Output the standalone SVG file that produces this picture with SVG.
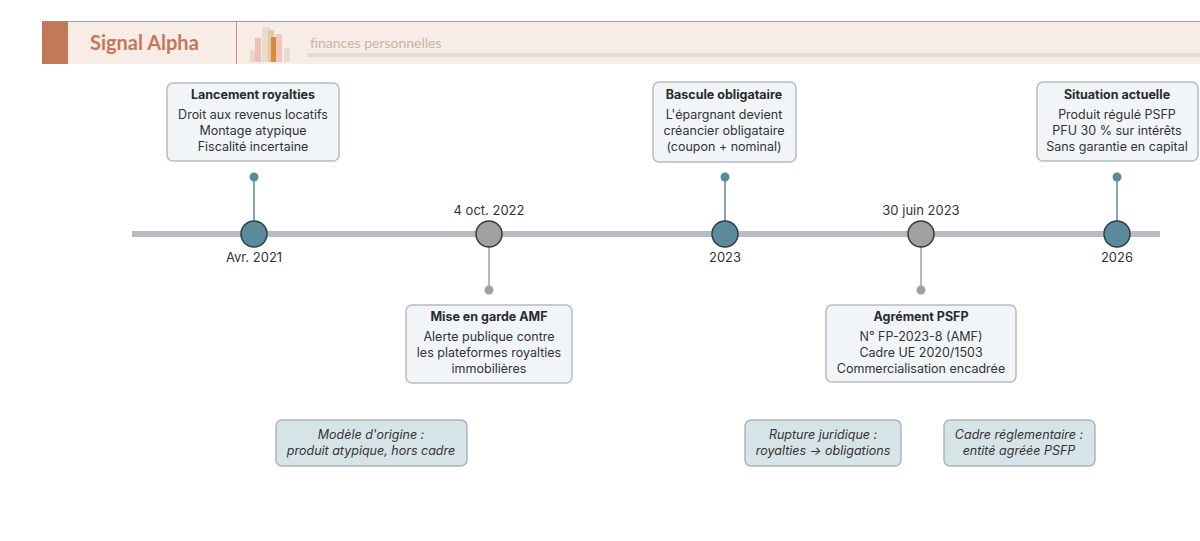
<svg xmlns="http://www.w3.org/2000/svg" width="1200" height="541" viewBox="0 0 1200 541">
<style>
text{font-family:Inter,"Noto Sans",sans-serif;fill:#2b2b2b}
.box{fill:#f1f5f8;stroke:#b4bcc2;stroke-width:1.5}
.note{fill:#d6e4e8;stroke:#a9b7bd;stroke-width:1.5}
.t{font-size:12.5px;font-weight:700;text-anchor:middle}
.b{font-size:12.5px;text-anchor:middle;fill:#333}
.n{font-size:12.5px;font-style:italic;text-anchor:middle;fill:#333}
.d{font-size:13px;text-anchor:middle;fill:#333}
.teal{fill:#5b8a9c;stroke:#2f3f46;stroke-width:1.5}
.gray{fill:#a0a0a0;stroke:#3a3a3a;stroke-width:1.5}
</style>
<rect width="1200" height="541" fill="#fff"/>
<g id="header">
<rect x="42" y="21" width="1158" height="43" fill="#f7ece6"/>
<line x1="42" y1="21.5" x2="1200" y2="21.5" stroke="#cf8f78" stroke-width="1"/>
<rect x="42" y="21" width="26" height="43" fill="#c4785a"/>
<line x1="236.5" y1="21" x2="236.5" y2="64" stroke="#cf8f78"/>
<text x="90" y="50" style="font-size:20px;font-weight:700;fill:#c4785a;font-family:Lato,Inter,sans-serif">Signal Alpha</text>
<rect x="250" y="50" width="8" height="12" fill="#e9d8c8"/>
<rect x="255" y="38" width="6" height="24" fill="#ecc0b8"/>
<rect x="262" y="27" width="8" height="35" fill="#e8dccb"/>
<rect x="268" y="30" width="6" height="32" fill="#e0c8a8"/>
<rect x="271" y="37" width="5" height="25" fill="#d68a3c"/>
<rect x="276" y="34" width="6" height="28" fill="#efc8c0"/>
<rect x="284" y="48" width="6" height="14" fill="#eadccd"/>
<rect x="307" y="53" width="893" height="4" fill="#e8dbd1"/>
<text x="310" y="48" style="font-size:14px;fill:#c9b5a4;font-family:Lato,Inter,sans-serif">finances personnelles</text>
</g>
<g id="connectors">
<line x1="132" y1="234" x2="1160" y2="234" stroke="#b8bcc2" stroke-width="6"/>
<g stroke="#5b8a9c" stroke-width="1.5"><line x1="254" y1="177" x2="254" y2="221"/><line x1="725" y1="177" x2="725" y2="221"/><line x1="1117" y1="177" x2="1117" y2="221"/></g>
<g stroke="#a0a0a0" stroke-width="1.5"><line x1="489" y1="247" x2="489" y2="290"/><line x1="921" y1="247" x2="921" y2="290"/></g>
<g fill="#5b8a9c"><circle cx="254" cy="177" r="4.5"/><circle cx="725" cy="177" r="4.5"/><circle cx="1117" cy="177" r="4.5"/></g>
<g fill="#a0a0a0"><circle cx="489" cy="290" r="4.5"/><circle cx="921" cy="290" r="4.5"/></g>
</g>
<g id="m2021"><circle class="teal" cx="254" cy="234" r="13"/><text class="d" x="254" y="262">Avr. 2021</text></g>
<g id="m2022"><circle class="gray" cx="489" cy="234" r="13"/><text class="d" x="489" y="215">4 oct. 2022</text></g>
<g id="m2023"><circle class="teal" cx="725" cy="234" r="13"/><text class="d" x="725" y="262">2023</text></g>
<g id="m2023b"><circle class="gray" cx="921" cy="234" r="13"/><text class="d" x="921" y="215">30 juin 2023</text></g>
<g id="m2026"><circle class="teal" cx="1117" cy="234" r="13"/><text class="d" x="1117" y="262">2026</text></g>
<g id="lancement"><rect class="box" x="167" y="83" width="172" height="78" rx="6"/>
<text class="t" x="253" y="99">Lancement royalties</text><text class="b" x="253" y="119">Droit aux revenus locatifs</text><text class="b" x="253" y="135">Montage atypique</text><text class="b" x="253" y="151">Fiscalité incertaine</text></g>
<g id="bascule"><rect class="box" x="653" y="82" width="143" height="80" rx="6"/>
<text class="t" x="724" y="99">Bascule obligataire</text><text class="b" x="724" y="119">L'épargnant devient</text><text class="b" x="724" y="135">créancier obligataire</text><text class="b" x="724" y="151">(coupon + nominal)</text></g>
<g id="situation"><rect class="box" x="1037" y="82" width="161" height="79" rx="6"/>
<text class="t" x="1117" y="99">Situation actuelle</text><text class="b" x="1117" y="119">Produit régulé PSFP</text><text class="b" x="1117" y="135">PFU 30 % sur intérêts</text><text class="b" x="1117" y="151">Sans garantie en capital</text></g>
<g id="amf"><rect class="box" x="406" y="305" width="166" height="78" rx="6"/>
<text class="t" x="489" y="321">Mise en garde AMF</text><text class="b" x="489" y="341">Alerte publique contre</text><text class="b" x="489" y="357">les plateformes royalties</text><text class="b" x="489" y="373">immobilières</text></g>
<g id="psfp"><rect class="box" x="826" y="305" width="190" height="77" rx="6"/>
<text class="t" x="921" y="321">Agrément PSFP</text><text class="b" x="921" y="341">N° FP-2023-8 (AMF)</text><text class="b" x="921" y="357">Cadre UE 2020/1503</text><text class="b" x="921" y="373">Commercialisation encadrée</text></g>
<g id="note1"><rect class="note" x="276" y="420" width="191" height="46" rx="6"/>
<text class="n" x="371" y="439">Modèle d'origine :</text><text class="n" x="371" y="455">produit atypique, hors cadre</text></g>
<g id="note2"><rect class="note" x="745" y="420" width="156" height="46" rx="6"/>
<text class="n" x="823" y="439">Rupture juridique :</text><text class="n" x="823" y="455">royalties → obligations</text></g>
<g id="note3"><rect class="note" x="944" y="420" width="151" height="46" rx="6"/>
<text class="n" x="1019" y="439">Cadre réglementaire :</text><text class="n" x="1019" y="455">entité agréée PSFP</text></g>
</svg>
